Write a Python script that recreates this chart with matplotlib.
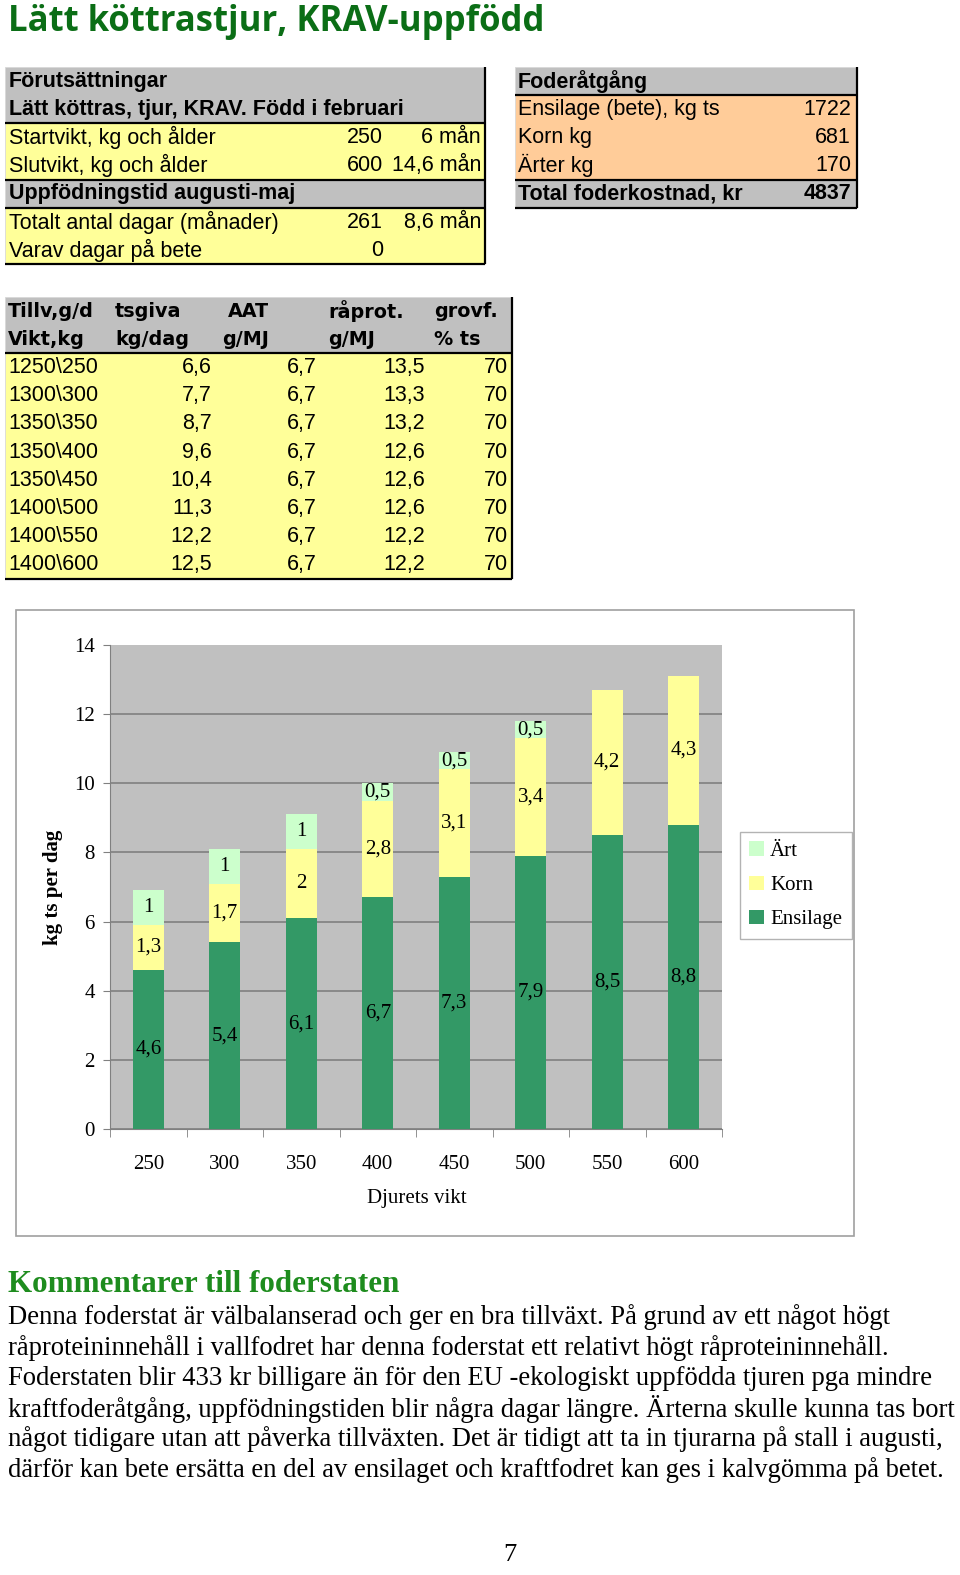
import matplotlib
matplotlib.use('Agg')
import matplotlib.pyplot as plt
from matplotlib.patches import Rectangle
import numpy as np

# ---- data -------------------------------------------------------------
title = "Lätt köttrastjur, KRAV-uppfödd"

pre_head = ["Förutsättningar", "Lätt köttras, tjur, KRAV. Född i februari"]
pre_labels = ["Startvikt, kg och ålder", "Slutvikt, kg och ålder"]
pre_vikt = [250, 600]
pre_alder = ["6 mån", "14,6 mån"]
period_head = "Uppfödningstid augusti-maj"
period_labels = ["Totalt antal dagar (månader)", "Varav dagar på bete"]
period_vals = [261, 0]
period_man = ["8,6 mån", ""]

feed_head = "Foderåtgång"
feed_labels = ["Ensilage (bete), kg ts", "Korn kg", "Ärter kg"]
feed_vals = [1722, 681, 170]
cost_label = "Total foderkostnad, kr"
cost_val = 4837

ration_head1 = ["Tillv,g/d", "tsgiva", "AAT", "råprot.", "grovf."]
ration_head2 = ["Vikt,kg", "kg/dag", "g/MJ", "g/MJ", "% ts"]
tillv = [1250, 1300, 1350, 1350, 1350, 1400, 1400, 1400]
vikt = [250, 300, 350, 400, 450, 500, 550, 600]
tsgiva = [6.6, 7.7, 8.7, 9.6, 10.4, 11.3, 12.2, 12.5]
aat = [6.7, 6.7, 6.7, 6.7, 6.7, 6.7, 6.7, 6.7]
raprot = [13.5, 13.3, 13.2, 12.6, 12.6, 12.6, 12.2, 12.2]
grovf = [70, 70, 70, 70, 70, 70, 70, 70]

weights = [250, 300, 350, 400, 450, 500, 550, 600]
ensilage = [4.6, 5.4, 6.1, 6.7, 7.3, 7.9, 8.5, 8.8]
korn = [1.3, 1.7, 2, 2.8, 3.1, 3.4, 4.2, 4.3]
art = [1, 1, 1, 0.5, 0.5, 0.5, 0, 0]

comment_head = "Kommentarer till foderstaten"
comment_lines = [
    "Denna foderstat är välbalanserad och ger en bra tillväxt. På grund av ett något högt",
    "råproteininnehåll i vallfodret har denna foderstat ett relativt högt råproteininnehåll.",
    "Foderstaten blir 433 kr billigare än för den EU -ekologiskt uppfödda tjuren pga mindre",
    "kraftfoderåtgång, uppfödningstiden blir några dagar längre. Ärterna skulle kunna tas bort",
    "något tidigare utan att påverka tillväxten. Det är tidigt att ta in tjurarna på stall i augusti,",
    "därför kan bete ersätta en del av ensilaget och kraftfodret kan ges i kalvgömma på betet.",
]
page_no = "7"

# ---- styling ----------------------------------------------------------
W, H = 960, 1575
SANS = ['Liberation Sans', 'DejaVu Sans']
SERIF = ['Liberation Serif', 'DejaVu Serif']
plt.rcParams['font.family'] = SERIF
GRAY = '#C0C0C0'
YELLOW = '#FFFF99'
ORANGE = '#FFCC99'
RH = 28.2
FS_TAB = 15.5
FS_CHART = 15


def fmt(v):
    return f"{v:g}".replace('.', ',')


fig = plt.figure(figsize=(W / 100, H / 100), dpi=100)
page = fig.add_axes([0, 0, 1, 1])
page.set_xlim(0, W)
page.set_ylim(H, 0)
page.axis('off')


def band(x0, x1, y0, y1, color):
    page.add_patch(Rectangle((x0, y0), x1 - x0, y1 - y0, facecolor=color,
                             edgecolor='#D8D8D8', lw=0.6))


def line(xs, ys, lw=1.6, color='black'):
    page.plot(xs, ys, color=color, lw=lw, solid_capstyle='butt')


def cell(x, y, s, ha='left', bold=False, size=FS_TAB, family=SANS):
    page.text(x, y, s, ha=ha, va='center', fontsize=size, family=family,
              fontweight='bold' if bold else 'normal')


# title
page.text(8, 31, title, ha='left', va='baseline', fontsize=25, family=['Open Sans', 'DejaVu Sans'],
          fontweight='bold', color='#0B6E16')

# ---- left table: Förutsättningar --------------------------------------
x0, x1, top = 5, 485, 67
ys = [top + i * RH for i in range(8)]
band(x0, x1, ys[0], ys[2], GRAY)
band(x0, x1, ys[2], ys[4], YELLOW)
band(x0, x1, ys[4], ys[5], GRAY)
band(x0, x1, ys[5], ys[7], YELLOW)
for i, s in enumerate(pre_head):
    cell(9, ys[i] + RH / 2, s, bold=True)
for i, s in enumerate(pre_labels):
    yc = ys[2 + i] + RH / 2
    cell(9, yc, s)
    cell(383, yc, str(pre_vikt[i]), ha='right')
    cell(481, yc, pre_alder[i], ha='right')
cell(9, ys[4] + RH / 2, period_head, bold=True)
for i, s in enumerate(period_labels):
    yc = ys[5 + i] + RH / 2
    cell(9, yc, s)
    cell(383, yc, str(period_vals[i]), ha='right')
    cell(481, yc, period_man[i], ha='right')
for yy in (ys[2], ys[4], ys[5]):
    line([x0, x1], [yy, yy])
line([x1, x1], [top, ys[7]])
line([x0, x1], [ys[7], ys[7]])

# ---- right table: Foderåtgång -----------------------------------------
x0, x1 = 515, 857
ys = [top + i * RH for i in range(6)]
band(x0, x1, ys[0], ys[1], GRAY)
band(x0, x1, ys[1], ys[4], ORANGE)
band(x0, x1, ys[4], ys[5], GRAY)
cell(518, ys[0] + RH / 2, feed_head, bold=True)
for i, s in enumerate(feed_labels):
    yc = ys[1 + i] + RH / 2
    cell(518, yc, s)
    cell(851, yc, str(feed_vals[i]), ha='right')
cell(518, ys[4] + RH / 2, cost_label, bold=True)
cell(851, ys[4] + RH / 2, str(cost_val), ha='right', bold=True)
for yy in (ys[1], ys[4]):
    line([x0, x1], [yy, yy])
line([x1, x1], [top, ys[5]])
line([x0, x1], [ys[5], ys[5]])

# ---- middle table: ration per weight ----------------------------------
x0, x1, top = 5, 512, 297
ys = [top + i * RH for i in range(11)]
band(x0, x1, ys[0], ys[2], GRAY)
band(x0, x1, ys[2], ys[10], YELLOW)
head_x = [8, 115, 228, 328, 434]
head2_x = [8, 115, 222, 328, 434]
for i in range(5):
    cell(head_x[i], ys[0] + RH / 2, ration_head1[i], bold=True, size=13.8, family=['DejaVu Sans'])
    cell(head2_x[i], ys[1] + RH / 2, ration_head2[i], bold=True, size=13.8, family=['DejaVu Sans'])
for i in range(len(vikt)):
    yc = ys[2 + i] + RH / 2
    cell(8, yc, f"{tillv[i]}\\{vikt[i]}")
    cell(212, yc, fmt(tsgiva[i]), ha='right')
    cell(317, yc, fmt(aat[i]), ha='right')
    cell(425, yc, fmt(raprot[i]), ha='right')
    cell(508, yc, str(grovf[i]), ha='right')
line([x0, x1], [ys[2], ys[2]])
line([x1, x1], [top, ys[10]])
line([x0, x1], [ys[10], ys[10]])

# ---- chart ------------------------------------------------------------
page.add_patch(Rectangle((16, 610), 838, 626, fill=False, edgecolor='#A0A0A0', lw=1.2))

ax = fig.add_axes([110 / W, 1 - 1129 / H, 612 / W, 484 / H])
ax.set_facecolor(GRAY)
x = np.arange(len(weights))
bw = 0.4
bot_korn = np.array(ensilage)
bot_art = bot_korn + np.array(korn)
series = [
    (ensilage, np.zeros(len(x)), '#339966', 'Ensilage'),
    (korn, bot_korn, '#FFFF99', 'Korn'),
    (art, bot_art, '#CCFFCC', 'Ärt'),
]
handles = []
for vals, bottom, color, name in series:
    h = ax.bar(x, vals, bw, bottom=bottom, color=color, label=name, zorder=3)
    handles.append(h)
    for xi, v, b in zip(x, vals, bottom):
        if v > 0:
            ax.text(xi, b + v / 2, fmt(v), ha='center', va='center', fontsize=FS_CHART, zorder=4)

ax.set_xlim(-0.5, len(x) - 0.5)
ax.set_ylim(0, 14)
ax.set_yticks(range(0, 15, 2))
ax.yaxis.grid(True, color='#808080', lw=1.2)
ax.get_ygridlines()[-1].set_visible(False)
ax.set_axisbelow(True)
for side in ('top', 'right'):
    ax.spines[side].set_visible(False)
for side in ('left', 'bottom'):
    ax.spines[side].set_color('#808080')
ax.tick_params(axis='y', length=5, color='#808080', labelsize=FS_CHART, pad=6)
ax.set_xticks(x)
ax.set_xticklabels([str(w) for w in weights])
ax.set_xticks(np.arange(-0.5, len(x), 1), minor=True)
ax.tick_params(axis='x', which='major', length=0, labelsize=FS_CHART, pad=19)
ax.tick_params(axis='x', which='minor', length=6, color='#808080')

fig.text(53 / W, 1 - 887 / H, 'kg ts per dag', rotation=90, fontweight='bold', fontsize=FS_CHART,
         ha='center', va='center')
fig.text(417 / W, 1 - 1199 / H, 'Djurets vikt', ha='center', va='center', fontsize=FS_CHART)

leg = fig.legend(handles[::-1], [s[3] for s in series][::-1], loc='upper left',
                 bbox_to_anchor=(740 / W, 1 - 832 / H), frameon=True, fancybox=False,
                 edgecolor='#A0A0A0', handlelength=0.7, handleheight=0.7, handletextpad=0.3,
                 labelspacing=0.7, fontsize=FS_CHART, borderpad=0.45, borderaxespad=0)
leg.get_frame().set_linewidth(1.0)

# ---- comments ---------------------------------------------------------
page.text(8, 1285, comment_head, ha='left', va='center', fontsize=22.4, fontweight='bold',
          color='#1E8C1E')
for i, s in enumerate(comment_lines):
    page.text(8, 1317 + i * 30.6, s, ha='left', va='center', fontsize=19.2)
page.text(510, 1555, page_no, ha='center', va='center', fontsize=19)

fig.savefig('out.png', dpi=100)
